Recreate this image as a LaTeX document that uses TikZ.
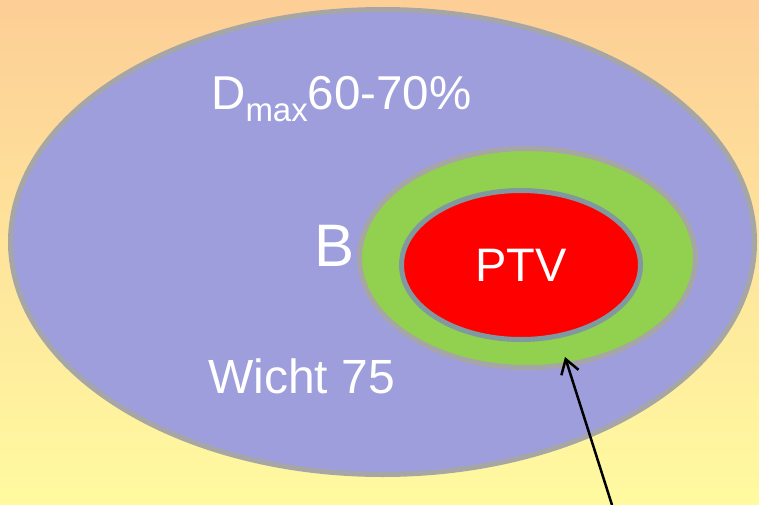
\documentclass[tikz,border=0pt]{standalone}
\usepackage{fontspec}
\setmainfont{Liberation Sans}
\usetikzlibrary{shapes.geometric,arrows.meta}
\definecolor{bgtop}{RGB}{253,206,150}
\definecolor{bgbot}{RGB}{255,250,160}
\definecolor{lilac}{RGB}{158,158,220}
\definecolor{limegreen}{RGB}{146,208,80}
\definecolor{rimgray}{RGB}{166,166,166}
\definecolor{rimblue}{RGB}{128,152,160}
\tikzset{
  zone/.style={ellipse, draw=rimgray, line width=5pt, inner sep=0pt},
  lbl/.style={text=white, inner sep=0pt},
  pointer/.style={draw=black, line width=2.5pt, -{Straight Barb[length=14pt,width=18pt,line width=2.5pt]}}
}
\begin{document}
\begin{tikzpicture}[x=1pt,y=-1pt]
\useasboundingbox (0,0) rectangle (759,505);
\shade[top color=bgtop, bottom color=bgbot] (0,0) rectangle (759,505);
\node[zone, fill=lilac, minimum width=744pt, minimum height=465pt] (oar) at (382.5,242) {};
\node[zone, fill=limegreen, minimum width=336pt, minimum height=219pt] (margin) at (527.5,258) {};
\node[zone, draw=rimblue, fill=red, minimum width=239pt, minimum height=149pt, font=\fontsize{47}{50}\selectfont, text=white] (ptv) at (521,265) {PTV};
\node[lbl, anchor=base west, font=\fontsize{47.5}{50}\selectfont] (dmax) at (211,110) {D\raisebox{-12pt}{\fontsize{33}{34}\selectfont max}60-70\%};
\node[lbl, anchor=base west, font=\fontsize{60}{64}\selectfont] (b) at (314,266) {B};
\node[lbl, anchor=base west, font=\fontsize{48}{50}\selectfont] (wicht) at (208,393) {Wicht 75};
\coordinate (tail) at (612,505);
\coordinate (tip) at (565,357);
\draw[pointer] (tail) -- (tip);
\end{tikzpicture}
\end{document}
